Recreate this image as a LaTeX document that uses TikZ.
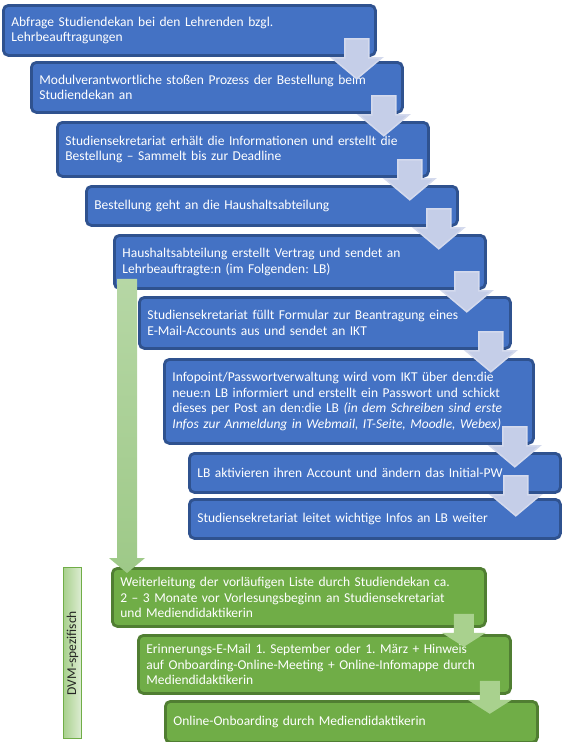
\documentclass[tikz,border=0pt]{standalone}
\usepackage{fontspec}
\setmainfont{Carlito}
\usetikzlibrary{calc}
\frenchspacing
\definecolor{bfill}{RGB}{68,114,196}
\definecolor{bline}{RGB}{47,82,143}
\definecolor{gfill}{RGB}{112,173,71}
\definecolor{gline}{RGB}{80,126,50}
\definecolor{arrfill}{RGB}{197,206,232}
\definecolor{arrline}{RGB}{212,218,237}
\definecolor{garr}{RGB}{169,209,142}
\definecolor{gtop}{RGB}{182,215,165}
\definecolor{gbot}{RGB}{158,201,136}
\definecolor{dvmleft}{RGB}{169,209,142}
\definecolor{dvmright}{RGB}{222,237,212}
\tikzset{
  box/.style={rounded corners=5pt, line width=2.8pt, anchor=north west,
    text=white, align=left, inner xsep=7pt, inner ysep=2pt,
    font=\fontsize{13.5}{15.8}\selectfont},
  bluebox/.style={box, fill=bfill, draw=bline},
  greenbox/.style={box, fill=gfill, draw=gline},
  barrow/.pic={\path[pic actions] (-12,-18) -- (12,-18) -- (12,1) -- (25,1) -- (0,22) -- (-25,1) -- (-12,1) -- cycle;},
  garrow/.pic={\path[pic actions] (-10,-14) -- (10,-14) -- (10,5) -- (22,5) -- (0,19) -- (-22,5) -- (-10,5) -- cycle;},
  bluearr/.style={fill=arrfill, draw=arrline, line width=1.5pt, line join=miter},
  greenarr/.style={fill=garr},
}
\begin{document}
\begin{tikzpicture}[x=1pt,y=-1pt]
\useasboundingbox (0,0) rectangle (562,742);
\node[bluebox, minimum width=372, minimum height=50, text width=356] (b1) at (2,4)
  {Abfrage Studiendekan bei den Lehrenden bzgl.\\Lehrbeauftragungen};
\node[bluebox, minimum width=371, minimum height=50, text width=355] (b2) at (30,61)
  {Modulverantwortliche stoßen Prozess der Bestellung beim\\Studiendekan an};
\node[bluebox, minimum width=371, minimum height=54, text width=355] (b3) at (56,121)
  {Studiensekretariat erhält die Informationen und erstellt die\\Bestellung – Sammelt bis zur Deadline};
\node[bluebox, minimum width=371, minimum height=39, text width=355] (b4) at (85,185)
  {Bestellung geht an die Haushaltsabteilung};
\node[bluebox, minimum width=371, minimum height=53, text width=355] (b5) at (113,234)
  {Haushaltsabteilung erstellt Vertrag und sendet an\\Lehrbeauftragte:n (im Folgenden: LB)};
\node[bluebox, minimum width=371, minimum height=51, text width=355] (b6) at (138,296)
  {Studiensekretariat füllt Formular zur Beantragung eines\\E-Mail-Accounts aus und sendet an IKT};
\node[bluebox, minimum width=369, minimum height=84, text width=353] (b7) at (163,358)
  {Infopoint/Passwortverwaltung wird vom IKT über den:die\\neue:n LB informiert und erstellt ein Passwort und schickt\\dieses per Post an den:die LB \textit{(in dem Schreiben sind erste}\\\textit{Infos zur Anmeldung in Webmail, IT-Seite, Moodle, Webex)}};
\node[bluebox, minimum width=371, minimum height=39, text width=355] (b8) at (188,452)
  {LB aktivieren ihren Account und ändern das Initial-PW};
\node[bluebox, minimum width=371, minimum height=39, text width=355] (b9) at (188,498)
  {Studiensekretariat leitet wichtige Infos an LB weiter};
\node[greenbox, minimum width=373, minimum height=58, text width=357] (g1) at (111,567)
  {Weiterleitung der vorläufigen Liste durch Studiendekan ca.\\2 – 3 Monate vor Vorlesungsbeginn an Studiensekretariat\\und Mediendidaktikerin};
\node[greenbox, minimum width=372, minimum height=58, text width=356] (g2) at (137,634)
  {Erinnerungs-E-Mail 1. September oder 1. März + Hinweis\\auf Onboarding-Online-Meeting + Online-Infomappe durch\\Mediendidaktikerin};
\node[greenbox, minimum width=372, minimum height=41, text width=356] (g3) at (164,700)
  {Online-Onboarding durch Mediendidaktikerin};
% DVM label
\node[draw=gfill, line width=1.2pt, left color=dvmleft, right color=dvmright,
  minimum width=18, minimum height=171, inner sep=0pt, anchor=north west] (dvmbox) at (63,567) {};
\node[rotate=90, font=\fontsize{13.5}{15.8}\selectfont, text=black!85] (dvm) at (dvmbox.center) {DVM-spezifisch};
% big green arrow from b5 to g1
\path[top color=gtop, bottom color=gbot]
  ($(b5.south west)+(4,-11)$) -- ($(b5.south west)+(24,-11)$)
  -- ($(g1.north west)+(26,-9)$) -- ($(g1.north west)+(34,-9)$)
  -- ($(g1.north west)+(16,6)$) -- ($(g1.north west)+(-2,-9)$)
  -- ($(g1.north west)+(6,-9)$) -- cycle;
% blue block arrows
\pic[bluearr] at ($(b1.south east)+(-20,0)$) {barrow};
\pic[bluearr] at ($(b2.south east)+(-20,0)$) {barrow};
\pic[bluearr] at ($(b3.south east)+(-20,0)$) {barrow};
\pic[bluearr] at ($(b4.south east)+(-20,0)$) {barrow};
\pic[bluearr] at ($(b5.south east)+(-20,0)$) {barrow};
\pic[bluearr] at ($(b6.south east)+(-21,0)$) {barrow};
\pic[bluearr] at ($(b7.south east)+(-20,0)$) {barrow};
\pic[bluearr] at ($(b8.south east)+(-46,0)$) {barrow};
% green block arrows
\pic[greenarr] at ($(g1.south east)+(-23,0)$) {garrow};
\pic[greenarr] at ($(g2.south east)+(-22,0)$) {garrow};
\end{tikzpicture}
\end{document}
